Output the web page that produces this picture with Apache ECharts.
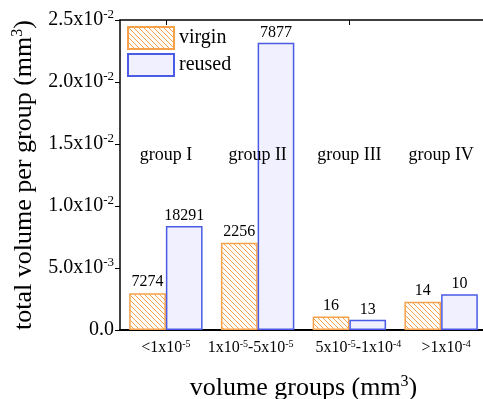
<!DOCTYPE html>
<html>
<head>
<meta charset="utf-8">
<script src="https://cdn.jsdelivr.net/npm/echarts@6/dist/echarts.min.js"></script>
<style>
  html, body { margin: 0; padding: 0; background: #fff; }
  #chart { width: 483px; height: 399px; }
</style>
</head>
<body>
<div id="chart"></div>
<script>
// Volume groups (mm^3), with superscripted exponents as rich-text fragments
const categories = ['<1x10|-5', '1x10|-5|-5x10|-5', '5x10|-5|-1x10|-4', '>1x10|-4'];
const groupNames = ['group I', 'group II', 'group III', 'group IV'];
// Total volume per group (mm^3)
const virginVolume = [0.00296, 0.00704, 0.00108, 0.00228];
const reusedVolume = [0.00839, 0.02317, 0.00083, 0.00288];
// Number of pores in each group
const virginCount = [7274, 2256, 16, 14];
const reusedCount = [18291, 7877, 13, 10];
// Height at which the group names are written
const groupLabelLevel = 0.0141;

const FONT = 'Liberation Serif';

// Horizontal nudges for the category labels, so neighbouring labels keep apart
const labelNudge = [0, -7, 9, 5];

// Diagonal hatch used for the virgin bars
function hatchPattern(color) {
  const s = 5;
  const c = document.createElement('canvas');
  c.width = s; c.height = s;
  const g = c.getContext('2d');
  g.fillStyle = '#ffffff';
  g.fillRect(0, 0, s, s);
  g.strokeStyle = color;
  g.lineWidth = 1;
  g.beginPath();
  g.moveTo(-1, -1); g.lineTo(s + 1, s + 1);
  g.moveTo(-1, s - 1); g.lineTo(1, s + 1);
  g.moveTo(s - 1, -1); g.lineTo(s + 1, 1);
  g.stroke();
  return c;
}

// Turn "a|b|c|d" into alternating normal / superscript fragments
function supText(str) {
  return str.split('|').map((p, i) => (i % 2 ? '{s|' + p + '}' : '{n|' + p + '}')).join('');
}

function yTick(v) {
  if (v === 0) return '{n|0.0}';
  const e = Math.floor(Math.log10(v) + 1e-9);
  const m = v / Math.pow(10, e);
  return '{n|' + m.toFixed(1) + 'x10}{s|' + e + '}';
}

const orange = '#F7A24B';
const blue = '#4A5BE6';

const bottomCategories = categories.map((c, i) => {
  const d = labelNudge[i];
  return {
    value: c,
    textStyle: { padding: [0, d < 0 ? -2 * d : 0, 0, d > 0 ? 2 * d : 0] }
  };
});

const chart = echarts.init(document.getElementById('chart'));
chart.setOption({
  animation: false,
  backgroundColor: '#fff',
  textStyle: { fontFamily: FONT, color: '#000' },
  legend: {
    left: 122, top: 21, orient: 'vertical',
    itemWidth: 46, itemHeight: 22, itemGap: 3,
    icon: 'rect',
    data: ['virgin', 'reused'],
    textStyle: { fontFamily: FONT, fontSize: 20, color: '#000', lineHeight: 22 }
  },
  grid: { left: 120, top: 20, width: 367, height: 310, containLabel: false, outerBoundsMode: 'none' },
  xAxis: [{
    type: 'category',
    data: bottomCategories,
    position: 'bottom',
    axisLine: { lineStyle: { color: '#000', width: 2 } },
    axisTick: { show: false },
    axisLabel: {
      margin: 9,
      interval: 0,
      hideOverlap: false,
      formatter: v => supText(v),
      rich: {
        n: { fontFamily: FONT, fontSize: 16, color: '#000' },
        s: { fontFamily: FONT, fontSize: 10, color: '#000', padding: [0, 0, 8, 0] }
      }
    },
    name: '{n|volume groups (mm}{s|3}{n|)}',
    nameLocation: 'middle',
    nameGap: 44,
    nameTextStyle: {
      rich: {
        n: { fontFamily: FONT, fontSize: 26, color: '#000' },
        s: { fontFamily: FONT, fontSize: 16, color: '#000', padding: [0, 0, 12, 0] }
      }
    }
  }, {
    type: 'category',
    data: categories,
    position: 'top',
    axisLine: { lineStyle: { color: '#000', width: 1.5 } },
    axisTick: { show: true, inside: true, alignWithLabel: true, length: 5, lineStyle: { color: '#000' } },
    axisLabel: { show: false }
  }],
  yAxis: {
    type: 'value',
    min: 0, max: 0.025, interval: 0.005,
    splitLine: { show: false },
    axisLine: { show: true, lineStyle: { color: '#000', width: 1.5 } },
    axisTick: { show: true, inside: false, length: 5, lineStyle: { color: '#000' } },
    axisLabel: {
      margin: 6,
      formatter: v => yTick(v),
      rich: {
        n: { fontFamily: FONT, fontSize: 20, color: '#000' },
        s: { fontFamily: FONT, fontSize: 13, color: '#000', padding: [0, 0, 10, 0] }
      }
    },
    name: '{n|total volume per group (mm}{s|3}{n|)}',
    nameLocation: 'middle',
    nameRotate: 90,
    nameGap: 80,
    nameTextStyle: {
      rich: {
        n: { fontFamily: FONT, fontSize: 26, color: '#000' },
        s: { fontFamily: FONT, fontSize: 16, color: '#000', padding: [0, 0, 12, 0] }
      }
    }
  },
  series: [{
    name: 'virgin',
    type: 'bar',
    data: virginVolume,
    barWidth: '40%',
    barGap: '0%',
    itemStyle: {
      color: { image: hatchPattern(orange), repeat: 'repeat' },
      borderColor: orange, borderWidth: 1.5
    },
    label: {
      show: true, position: 'top', distance: 3,
      formatter: p => String(virginCount[p.dataIndex]),
      fontFamily: FONT, fontSize: 16, color: '#000'
    }
  }, {
    name: 'reused',
    type: 'bar',
    data: reusedVolume,
    barWidth: '40%',
    barGap: '0%',
    itemStyle: { color: '#F0F0FE', borderColor: blue, borderWidth: 1.5 },
    label: {
      show: true, position: 'top', distance: 2,
      formatter: p => String(reusedCount[p.dataIndex]),
      fontFamily: FONT, fontSize: 16, color: '#000'
    }
  }, {
    name: 'groups',
    type: 'scatter',
    data: groupNames.map((g, i) => [i, groupLabelLevel]),
    symbolSize: 0,
    silent: true,
    z: 10,
    itemStyle: { opacity: 1, color: 'transparent' },
    label: {
      show: true, position: 'inside',
      formatter: p => groupNames[p.dataIndex],
      fontFamily: FONT, fontSize: 18, color: '#000',
      textBorderWidth: 0, textBorderColor: 'transparent'
    }
  }]
});
</script>
</body>
</html>
